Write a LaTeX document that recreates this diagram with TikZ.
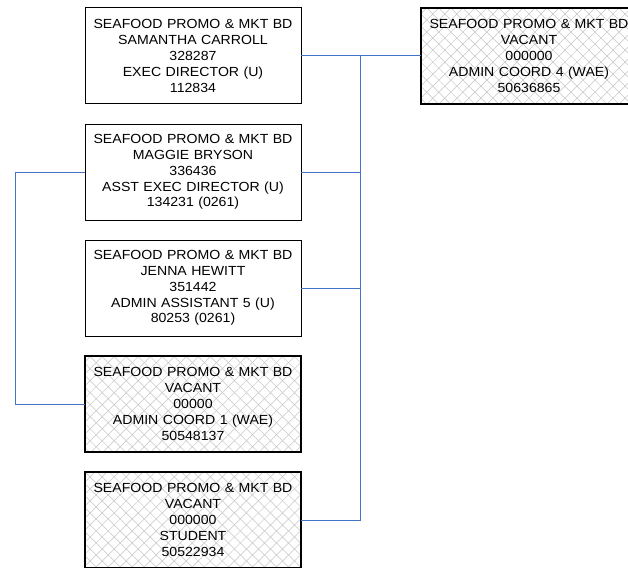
\documentclass[tikz,border=0pt]{standalone}
\usepackage{fontspec}
\setmainfont{Liberation Sans}[FakeStretch=1.07]
\usetikzlibrary{positioning,patterns.meta,calc}

\definecolor{linkblue}{RGB}{68,114,196}

\begin{document}
\begin{tikzpicture}[
x=1pt,y=-1pt,
mybox/.style={
  draw=black,
  line width=1pt,
  fill=white,
  inner sep=0pt,
  outer sep=0pt,
  text width=216pt,
  minimum height=96pt,
  align=center,
  font=\fontsize{13.2}{15.8}\selectfont},
myvacant/.style={
  mybox,
  fill=none,
  line width=2.4pt,
  preaction={fill=white},
  preaction={pattern={Lines[angle=45,distance=8.5pt,line width=0.5pt]},pattern color=gray!45},
  preaction={pattern={Lines[angle=-45,distance=8.5pt,line width=0.5pt]},pattern color=gray!45}},
mylink/.style={
  draw=linkblue,
  line width=1pt}
]
\useasboundingbox (0,0) rectangle (628,567);
\clip (0,0) rectangle (628,567);
\fill[white] (0,0) rectangle (628,567);
% left column
\node[mybox] (carroll) at (193,56)
  {SEAFOOD PROMO \& MKT BD\\SAMANTHA CARROLL\\328287\\EXEC DIRECTOR (U)\\112834};
\node[mybox,below=20pt of carroll] (bryson)
  {SEAFOOD PROMO \& MKT BD\\MAGGIE BRYSON\\336436\\ASST EXEC DIRECTOR (U)\\134231 (0261)};
\node[mybox,below=20pt of bryson] (hewitt)
  {SEAFOOD PROMO \& MKT BD\\JENNA HEWITT\\351442\\ADMIN ASSISTANT 5 (U)\\80253 (0261)};
\node[myvacant,below=20pt of hewitt] (coord1)
  {SEAFOOD PROMO \& MKT BD\\VACANT\\00000\\ADMIN COORD 1 (WAE)\\50548137};
\node[myvacant,below=20pt of coord1] (student)
  {SEAFOOD PROMO \& MKT BD\\VACANT\\000000\\STUDENT\\50522934};
% right column
\node[myvacant] (coord4) at (529,56)
  {SEAFOOD PROMO \& MKT BD\\VACANT\\000000\\ADMIN COORD 4 (WAE)\\50636865};
% links
\coordinate (bus) at ($(carroll.east)+(59,0)$);
\draw[mylink] (carroll.east) -- (coord4.west);
\draw[mylink] (bus) |- (student.east);
\draw[mylink] (bryson.east) -- (bryson.east -| bus);
\draw[mylink] (hewitt.east) -- (hewitt.east -| bus);
\draw[mylink] (bryson.west) -- ++(-70,0) |- (coord1.west);
\end{tikzpicture}
\end{document}
